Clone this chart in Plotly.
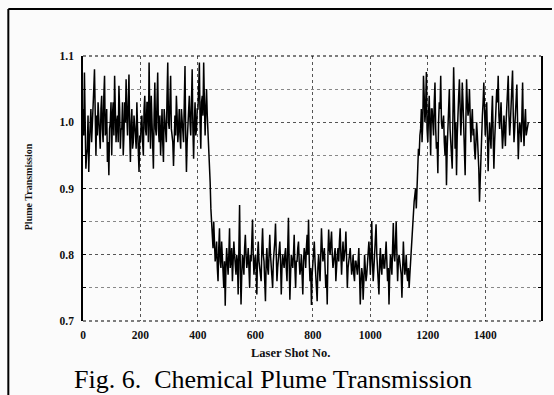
import plotly.graph_objects as go

# Plume transmission, every 5th laser shot (0, 5, 10, ...)
shot_step = 5
transmission = [
    # 0-45
    1.02, 1.075, 0.93, 0.96, 0.925, 0.99, 0.97, 1.03, 1.08, 0.95,
    # 50-95
    0.98, 1.01, 0.96, 1.04, 0.97, 1.07, 0.99, 0.94, 0.92, 1.00,
    # 100-145
    0.95, 1.03, 1.07, 0.97, 1.01, 1.055, 0.96, 0.99, 0.95, 1.03,
    # 150-195
    1.065, 0.98, 1.072, 0.94, 1.02, 0.97, 1.00, 0.96, 0.99, 0.925,
    # 200-245
    0.97, 1.01, 0.95, 1.04, 0.98, 1.03, 1.09, 0.96, 1.00, 0.93,
    # 250-295
    1.06, 0.98, 1.075, 0.97, 0.95, 1.02, 0.94, 1.00, 0.97, 1.09,
    # 300-345
    0.99, 1.07, 0.98, 0.934, 1.01, 1.04, 0.97, 1.02, 0.96, 1.00,
    # 350-395
    0.97, 1.085, 0.925, 1.00, 1.04, 0.98, 1.08, 0.945, 1.03, 0.99,
    # 400-445
    1.02, 1.09, 0.96, 1.04, 1.09, 0.98, 1.05, 0.99, 0.94, 0.87,
    # 450-495
    0.83, 0.85, 0.79, 0.82, 0.76, 0.84, 0.78, 0.80, 0.75, 0.723,
    # 500-545
    0.81, 0.77, 0.84, 0.79, 0.76, 0.82, 0.78, 0.80, 0.74, 0.875,
    # 550-595
    0.725, 0.80, 0.77, 0.83, 0.78, 0.81, 0.75, 0.79, 0.853, 0.77,
    # 600-645
    0.80, 0.74, 0.82, 0.78, 0.76, 0.84, 0.79, 0.73, 0.81, 0.77,
    # 650-695
    0.83, 0.78, 0.75, 0.80, 0.847, 0.76, 0.79, 0.82, 0.74, 0.80,
    # 700-745
    0.78, 0.81, 0.76, 0.856, 0.732, 0.80, 0.78, 0.83, 0.75, 0.79,
    # 750-795
    0.82, 0.77, 0.80, 0.74, 0.81, 0.78, 0.83, 0.853, 0.76, 0.724,
    # 800-845
    0.79, 0.82, 0.77, 0.73, 0.80, 0.76, 0.84, 0.79, 0.81, 0.75,
    # 850-895
    0.725, 0.838, 0.80, 0.835, 0.78, 0.81, 0.76, 0.80, 0.79, 0.84,
    # 900-945
    0.77, 0.82, 0.80, 0.835, 0.75, 0.79, 0.81, 0.77, 0.80, 0.76,
    # 950-995
    0.79, 0.77, 0.81, 0.725, 0.78, 0.732, 0.80, 0.76, 0.79, 0.82,
    # 1000-1045
    0.77, 0.851, 0.76, 0.80, 0.846, 0.78, 0.74, 0.81, 0.77, 0.80,
    # 1050-1095
    0.78, 0.82, 0.76, 0.725, 0.80, 0.77, 0.848, 0.79, 0.85, 0.76,
    # 1100-1145
    0.80, 0.78, 0.735, 0.82, 0.77, 0.80, 0.76, 0.75, 0.79, 0.82,
    # 1150-1195
    0.85, 0.89, 0.87, 0.93, 0.95, 0.99, 0.97, 1.07, 1.00, 1.076,
    # 1200-1245
    0.97, 1.04, 0.95, 1.02, 0.98, 1.06, 0.96, 0.923, 1.03, 1.07,
    # 1250-1295
    0.99, 1.01, 0.95, 0.905, 1.00, 1.05, 0.97, 0.93, 1.083, 0.96,
    # 1300-1345
    0.92, 1.03, 1.065, 0.98, 1.06, 0.99, 0.92, 1.065, 1.01, 1.05,
    # 1350-1395
    0.97, 1.02, 0.99, 0.944, 1.00, 0.96, 0.88, 0.95, 1.01, 1.06,
    # 1400-1445
    0.98, 1.03, 0.926, 1.00, 0.96, 1.04, 0.93, 0.99, 1.05, 1.07,
    # 1450-1495
    0.99, 1.03, 0.96, 1.01, 0.964, 1.02, 1.07, 0.98, 1.02, 1.078,
    # 1500-1550
    0.97, 1.01, 1.057, 0.944, 1.00, 0.97, 1.06, 0.964, 1.02, 0.99,
    1.00,
]

# Plume transmission read between those shots (2.5, 7.5, 12.5, ...): the dense core of the trace
transmission_between = [
    0.98, 1.00, 0.95, 1.01, 0.97, 1.02, 0.99, 1.05, 0.97, 1.01,
    1.03, 0.98, 1.02, 0.99, 1.04, 0.98, 1.02, 0.97, 0.99, 1.03,
    1.01, 0.98, 1.02, 1.00, 0.97, 1.02, 0.99, 1.03, 0.98, 1.00,
    1.01, 1.03, 0.98, 1.00, 0.96, 1.01, 0.98, 1.03, 0.95, 0.98,
    1.00, 0.97, 1.02, 0.99, 1.03, 0.97, 1.01, 1.04, 0.97, 1.01,
    0.99, 1.03, 0.99, 1.01, 0.98, 0.97, 1.02, 0.98, 1.04, 1.00,
    1.03, 0.99, 0.97, 1.00, 0.98, 1.01, 0.99, 0.98, 1.02, 0.98,
    1.03, 0.98, 0.97, 1.02, 1.00, 1.03, 0.99, 1.00, 0.98, 1.02,
    1.05, 1.00, 1.03, 1.01, 1.03, 1.02, 1.01, 0.97, 0.91, 0.85,
    0.81, 0.82, 0.80, 0.78, 0.81, 0.79, 0.82, 0.77, 0.79, 0.78,
    0.79, 0.80, 0.78, 0.81, 0.79, 0.80, 0.77, 0.79, 0.82, 0.78,
    0.77, 0.79, 0.81, 0.80, 0.79, 0.78, 0.80, 0.82, 0.80, 0.79,
    0.78, 0.80, 0.79, 0.77, 0.81, 0.80, 0.76, 0.79, 0.78, 0.80,
    0.80, 0.77, 0.79, 0.82, 0.80, 0.78, 0.81, 0.79, 0.78, 0.79,
    0.80, 0.78, 0.81, 0.79, 0.77, 0.79, 0.80, 0.78, 0.79, 0.81,
    0.79, 0.78, 0.77, 0.79, 0.80, 0.81, 0.80, 0.79, 0.78, 0.77,
    0.80, 0.79, 0.76, 0.78, 0.78, 0.80, 0.81, 0.80, 0.78, 0.77,
    0.80, 0.81, 0.82, 0.80, 0.79, 0.81, 0.80, 0.81, 0.82, 0.80,
    0.80, 0.79, 0.81, 0.79, 0.78, 0.80, 0.79, 0.78, 0.77, 0.79,
    0.78, 0.79, 0.77, 0.76, 0.77, 0.76, 0.78, 0.77, 0.79, 0.80,
    0.80, 0.79, 0.78, 0.81, 0.80, 0.77, 0.79, 0.78, 0.80, 0.78,
    0.80, 0.79, 0.78, 0.77, 0.79, 0.81, 0.80, 0.82, 0.80, 0.79,
    0.79, 0.77, 0.78, 0.79, 0.78, 0.77, 0.78, 0.77, 0.81, 0.84,
    0.88, 0.90, 0.92, 0.96, 0.98, 1.02, 1.00, 1.04, 1.02, 0.99,
    1.01, 0.99, 1.02, 1.00, 1.03, 0.99, 0.97, 1.00, 1.02, 1.00,
    1.00, 0.97, 0.98, 0.96, 1.02, 0.99, 0.96, 1.01, 1.03, 1.00,
    0.98, 1.04, 1.02, 1.01, 1.03, 0.97, 1.00, 1.03, 1.02, 1.01,
    1.00, 0.98, 0.96, 0.97, 0.98, 0.93, 0.92, 0.98, 1.03, 1.02,
    1.01, 0.98, 0.97, 0.98, 1.01, 0.98, 0.97, 1.02, 1.03, 1.01,
    1.01, 0.99, 0.98, 0.99, 1.00, 1.04, 1.01, 1.00, 1.04, 1.01,
    0.99, 1.03, 1.00, 0.98, 0.99, 1.01, 0.99, 1.00, 0.98, 1.00,
]

# Merge both readings into one trace ordered by shot number
shots, values = [], []
for i, v in enumerate(transmission):
    shots.append(i * shot_step)
    values.append(v)
    if i < len(transmission_between):
        shots.append(i * shot_step + shot_step / 2)
        values.append(transmission_between[i])

y_tick_vals = [0.7, 0.8, 0.9, 1.0, 1.1]
y_tick_text = ["0.7", "0.8", "0.9", "1.0", "1.1"]
x_tick_vals = [0, 200, 400, 600, 800, 1000, 1200, 1400]
x_tick_text = ["0", "200", "400", "600", "800", "1000", "1200", "1400"]

tick_font = dict(family="Liberation Serif", size=11.5, color="#111")
grid_col = "#555"

fig = go.Figure()
fig.add_trace(go.Scatter(
    x=shots, y=values, mode="lines",
    line=dict(color="#000", width=1.5), showlegend=False,
))

fig.update_layout(
    width=554, height=395,
    margin=dict(l=83, r=11, t=56, b=74),
    paper_bgcolor="#fbfbfb", plot_bgcolor="#fbfbfb",
    xaxis=dict(
        range=[0, 1594], tickvals=x_tick_vals,
        ticktext=[f"<b>{t}</b>" for t in x_tick_text],
        tickfont=tick_font, showline=False, zeroline=False,
        showgrid=True, gridcolor=grid_col, griddash="dot", gridwidth=1,
        ticks="", ticklabelstandoff=5,
    ),
    yaxis=dict(
        range=[0.7, 1.1], tickvals=y_tick_vals,
        ticktext=[f"<b>{t}</b>" for t in y_tick_text],
        tickfont=tick_font, showline=True, linecolor="#000", linewidth=1.6,
        mirror="allticks", ticks="inside", ticklen=3, tickcolor="#000",
        zeroline=False, showgrid=True, gridcolor=grid_col, griddash="dot",
        gridwidth=1, ticklabelstandoff=5,
        minor=dict(dtick=0.05, showgrid=True, gridcolor="#888",
                   griddash="dot", ticks="inside", ticklen=3, tickcolor="#000"),
    ),
    shapes=[
        dict(type="line", xref="paper", yref="paper", x0=0, x1=1, y0=0, y1=0,
             line=dict(color="#000", width=1.2, dash="dot")),
        dict(type="line", xref="paper", yref="paper", x0=0, x1=1, y0=1, y1=1,
             line=dict(color="#000", width=1.2, dash="dot")),
        # outer frame of the figure (left and top edges)
        dict(type="line", xref="paper", yref="paper",
             x0=-75 / 460, x1=-75 / 460, y0=-74 / 265, y1=47 / 265 + 1,
             line=dict(color="#000", width=2)),
        dict(type="line", xref="paper", yref="paper",
             x0=-75 / 460, x1=471 / 460, y0=47 / 265 + 1, y1=47 / 265 + 1,
             line=dict(color="#000", width=2)),
    ],
    annotations=[
        dict(text="<b>Laser Shot No.</b>", xref="paper", yref="paper",
             x=(291 - 83) / 460, y=-(353 - 321) / 265, showarrow=False,
             xanchor="center", yanchor="middle", borderpad=0,
             font=dict(family="Liberation Serif", size=12.5, color="#111")),
        dict(text="<b>Plume Transmission</b>", xref="paper", yref="paper",
             x=-(83 - 28) / 460, y=(321 - 187) / 265, showarrow=False,
             textangle=-90, xanchor="center", yanchor="middle",
             font=dict(family="Liberation Serif", size=10, color="#111")),
        dict(text="Fig. 6.  Chemical Plume Transmission", xref="paper",
             yref="paper", x=(73 - 83) / 460, y=-(394.5 - 321) / 265,
             showarrow=False, xanchor="left", yanchor="bottom", borderpad=0,
             font=dict(family="Liberation Serif", size=26, color="#000")),
    ],
)

fig.write_html("out.html")
